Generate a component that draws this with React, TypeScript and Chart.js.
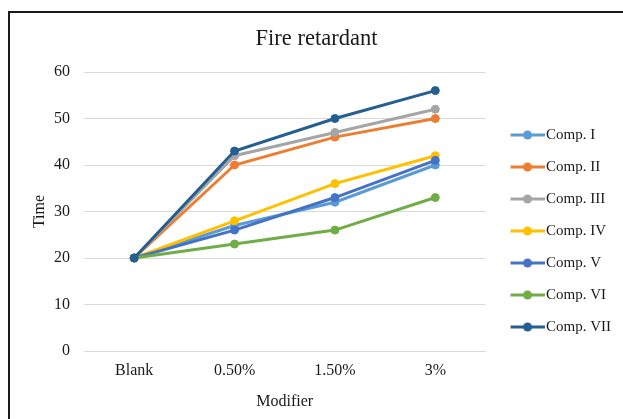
import React, { useEffect, useRef } from 'react';
import { Chart, registerables } from 'chart.js';

Chart.register(...registerables);

const categories = ['Blank', '0.50%', '1.50%', '3%'];
const seriesNames = ['Comp. I', 'Comp. II', 'Comp. III', 'Comp. IV', 'Comp. V', 'Comp. VI', 'Comp. VII'];
const compI = [20, 27, 32, 40];
const compII = [20, 40, 46, 50];
const compIII = [20, 42, 47, 52];
const compIV = [20, 28, 36, 42];
const compV = [20, 26, 33, 41];
const compVI = [20, 23, 26, 33];
const compVII = [20, 43, 50, 56];
const seriesValues = [compI, compII, compIII, compIV, compV, compVI, compVII];
const seriesColors = ['#5B9BD5', '#ED7D31', '#A5A5A5', '#FFC000', '#4472C4', '#70AD47', '#255E91'];
const yTicks = { min: 0, max: 60, step: 10 };

const FONT = "'Liberation Serif', 'Times New Roman', serif";
const TEXT = '#1a1a1a';

function markerImage(color: string) {
  const c = document.createElement('canvas');
  c.width = 48;
  c.height = 12;
  const ctx = c.getContext('2d')!;
  ctx.strokeStyle = color;
  ctx.lineWidth = 3;
  ctx.beginPath();
  ctx.moveTo(14, 6);
  ctx.lineTo(48, 6);
  ctx.stroke();
  ctx.fillStyle = color;
  ctx.beginPath();
  ctx.arc(31, 6, 4.5, 0, Math.PI * 2);
  ctx.fill();
  return c;
}

export default function App() {
  const ref = useRef<HTMLCanvasElement | null>(null);

  useEffect(() => {
    if (!ref.current) return;
    const n = seriesNames.length;
    const markers = seriesColors.map(markerImage);
    const chart = new Chart(ref.current, {
      type: 'line',
      data: {
        labels: categories,
        datasets: seriesNames.map((name, i) => ({
          label: name,
          data: seriesValues[i],
          borderColor: seriesColors[i],
          backgroundColor: seriesColors[i],
          pointBackgroundColor: seriesColors[i],
          pointBorderColor: seriesColors[i],
          borderWidth: 3,
          pointRadius: 4,
          pointBorderWidth: 1,
          tension: 0,
          fill: false,
          order: n - i,
        })),
      },
      options: {
        responsive: false,
        animation: false,
        layout: { padding: { top: 12, left: 12, right: 2, bottom: 0 } },
        plugins: {
          tooltip: { enabled: false },
          title: {
            display: true,
            text: 'Fire retardant',
            color: TEXT,
            font: { family: FONT, size: 22.5, weight: 'normal' },
            padding: { top: 13.5, bottom: 19.5 },
          },
          legend: {
            position: 'right',
            title: { display: true, text: '', font: { size: 10 }, padding: { top: 19, bottom: 0 } },
            labels: {
              usePointStyle: true,
              pointStyleWidth: 36,
              padding: 17,
              color: TEXT,
              font: { family: FONT, size: 15 },
              generateLabels: (ch: any) => {
                const items = Chart.defaults.plugins.legend.labels.generateLabels(ch);
                items.sort((a: any, b: any) => a.datasetIndex - b.datasetIndex);
                items.forEach((it: any) => {
                  it.pointStyle = markers[it.datasetIndex];
                });
                return items;
              },
            },
          },
        },
        scales: {
          x: {
            type: 'category',
            offset: true,
            grid: { display: false, drawTicks: false, offset: true },
            border: { display: true, color: '#d9d9d9', width: 1 },
            ticks: { color: TEXT, font: { family: FONT, size: 16 }, padding: 10 },
            title: {
              display: true,
              text: 'Modifier',
              color: TEXT,
              font: { family: FONT, size: 16 },
              padding: { top: 0, bottom: 7.4 },
            },
            afterFit: (scale: any) => {
              scale.height = 68;
            },
          },
          y: {
            min: yTicks.min,
            max: yTicks.max,
            grid: { color: '#d9d9d9', lineWidth: 1, drawTicks: false },
            border: { display: false },
            ticks: { stepSize: yTicks.step, color: TEXT, font: { family: FONT, size: 16 }, padding: 14 },
            title: {
              display: true,
              text: 'Time',
              color: TEXT,
              font: { family: FONT, size: 16 },
              padding: { top: 18.4, bottom: 0 },
            },
            afterFit: (scale: any) => {
              scale.width = 72;
            },
          },
        },
      },
    } as any);
    return () => chart.destroy();
  }, []);

  return (
    <div style={{ position: 'fixed', left: 0, top: 0, width: 623, height: 419, background: '#fff', overflow: 'hidden' }}>
      <div
        style={{
          position: 'absolute',
          left: 8,
          top: 11,
          width: 700,
          height: 500,
          borderLeft: '2px solid #1a1a1a',
          borderTop: '2px solid #1a1a1a',
        }}
      />
      <canvas ref={ref} width={623} height={419} style={{ position: 'absolute', left: 0, top: 0 }} />
    </div>
  );
}
